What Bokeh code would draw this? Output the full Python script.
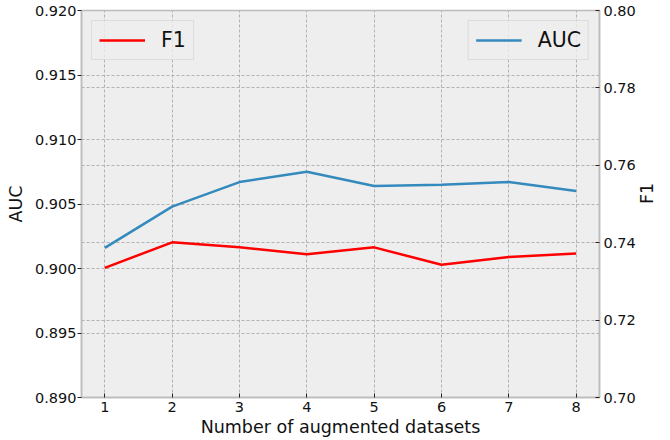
import math
from bokeh.plotting import figure
from bokeh.models import (Range1d, LinearAxis, FixedTicker, NumeralTickFormatter,
                          Grid, Legend, LegendItem)
from bokeh.embed import file_html
from bokeh.resources import INLINE

# ---- data ----
n_datasets = [1, 2, 3, 4, 5, 6, 7, 8]
auc_values = [0.9016, 0.9048, 0.9067, 0.9075, 0.9064, 0.9065, 0.9067, 0.9060]
f1_values = [0.7335, 0.7401, 0.7388, 0.7370, 0.7388, 0.7343, 0.7363, 0.7372]
auc_ticks = [0.890, 0.895, 0.900, 0.905, 0.910, 0.915, 0.920]
f1_ticks = [0.70, 0.72, 0.74, 0.76, 0.78, 0.80]

FONT = "DejaVu Sans"
GRID_COLOR = "#b2b2b2"
FRAME_COLOR = "#bcbcbc"

p = figure(width=670, height=440, output_backend="svg", toolbar_location=None,
           x_range=Range1d(0.654, 8.346), y_range=Range1d(0.890, 0.920),
           min_border_left=81, min_border_right=71, min_border_top=10,
           min_border_bottom=43)
p.extra_y_ranges = {"f1": Range1d(0.70, 0.80)}
p.background_fill_color = "#eeeeee"
p.border_fill_color = "white"
p.outline_line_color = FRAME_COLOR
p.outline_line_width = 1.5

# axes
p.xaxis.ticker = FixedTicker(ticks=n_datasets)
p.yaxis.ticker = FixedTicker(ticks=auc_ticks)
p.yaxis.formatter = NumeralTickFormatter(format="0.000")
p.xaxis.axis_label = "Number of augmented datasets"
p.yaxis.axis_label = "AUC"

right = LinearAxis(y_range_name="f1", ticker=FixedTicker(ticks=f1_ticks),
                   formatter=NumeralTickFormatter(format="0.00"), axis_label="F1")
p.add_layout(right, "right")

for ax in [p.xaxis[0], p.yaxis[0], right]:
    ax.axis_line_color = FRAME_COLOR
    ax.axis_line_width = 1.5
    ax.major_tick_line_color = "#222222"
    ax.major_tick_line_width = 1
    ax.minor_tick_line_color = None
    ax.major_label_text_font = FONT
    ax.major_label_text_font_size = "14.5px"
    ax.major_label_text_color = "#111111"
    ax.axis_label_text_font = FONT
    ax.axis_label_text_font_size = "17.5px"
    ax.axis_label_text_font_style = "normal"
    ax.axis_label_text_color = "#111111"

p.yaxis[0].major_tick_out = 4
p.yaxis[0].major_tick_in = 0
p.yaxis[0].major_label_standoff = 1
p.yaxis[0].axis_label_standoff = 6
right.major_tick_in = 4
right.major_tick_out = 0
right.major_label_standoff = 4
right.axis_label_standoff = 8
right.axis_label_orientation = math.pi / 2
p.xaxis[0].major_tick_in = 4
p.xaxis[0].major_tick_out = 0
p.xaxis[0].major_label_standoff = 4
p.xaxis[0].axis_label_standoff = 2

# grids
for g in p.grid:
    g.grid_line_color = GRID_COLOR
    g.grid_line_dash = "3 2"
    g.grid_line_width = 1
g2 = Grid(dimension=1, ticker=FixedTicker(ticks=f1_ticks), y_range_name="f1",
          grid_line_color=GRID_COLOR, grid_line_dash="3 2", grid_line_width=1)
p.add_layout(g2)

# lines
auc_r = p.line(n_datasets, auc_values, line_color="#348ABD", line_width=2.5)
f1_r = p.line(n_datasets, f1_values, line_color="#ff0000", line_width=2.5,
              y_range_name="f1")

def make_legend(label, r, loc):
    lg = Legend(items=[LegendItem(label=label, renderers=[r])], location=loc)
    lg.label_text_font = FONT
    lg.label_text_font_size = "20.5px"
    lg.label_text_color = "#111111"
    lg.background_fill_color = "#eeeeee"
    lg.background_fill_alpha = 0.8
    lg.border_line_color = "#cccccc"
    lg.border_line_width = 1
    lg.padding = 7
    lg.margin = 10
    lg.glyph_width = 46
    lg.glyph_height = 24
    lg.label_height = 24
    lg.label_standoff = 16
    lg.spacing = 0
    return lg

p.add_layout(make_legend("F1", f1_r, "top_left"))
p.add_layout(make_legend("AUC", auc_r, "top_right"))

open("out.html", "w").write(file_html(p, INLINE))
